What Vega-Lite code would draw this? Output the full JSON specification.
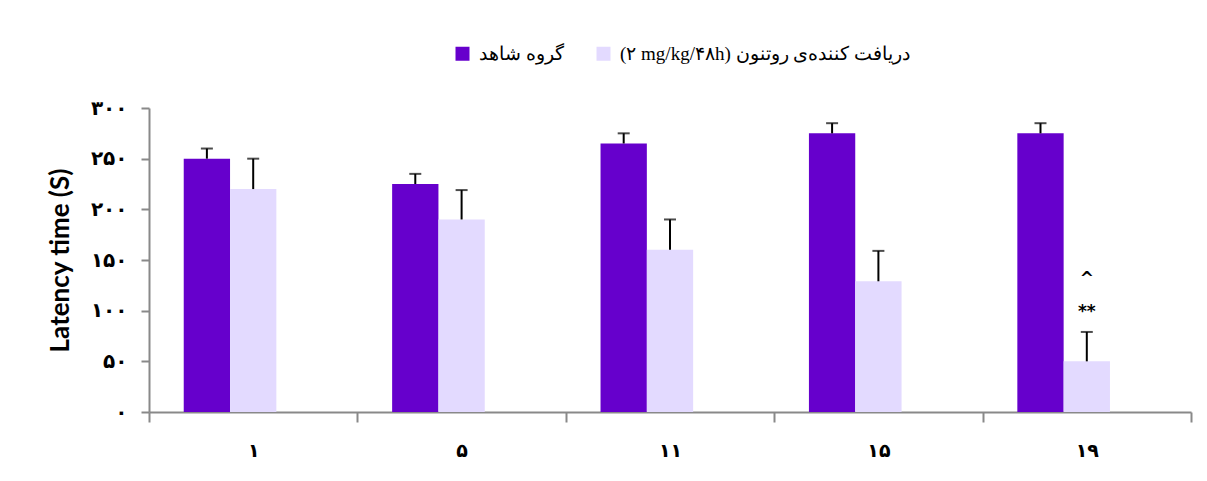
{
  "$schema": "https://vega.github.io/schema/vega-lite/v6.json",
  "width": 1042,
  "height": 304,
  "autosize": {"type": "none"},
  "padding": {"left": 149, "top": 108, "right": 16, "bottom": 69},
  "background": "white",
  "config": {"view": {"stroke": null}, "axis": {"grid": false}},
  "datasets": {
    "bars": [
      {"day": "۱", "group": "گروه شاهد", "mean": 250, "upper": 260},
      {"day": "۱", "group": "(۲ mg/kg/۴۸h) دریافت کننده‌ی روتنون", "mean": 220, "upper": 250},
      {"day": "۵", "group": "گروه شاهد", "mean": 225, "upper": 235},
      {"day": "۵", "group": "(۲ mg/kg/۴۸h) دریافت کننده‌ی روتنون", "mean": 190, "upper": 219},
      {"day": "۱۱", "group": "گروه شاهد", "mean": 265, "upper": 275},
      {"day": "۱۱", "group": "(۲ mg/kg/۴۸h) دریافت کننده‌ی روتنون", "mean": 160, "upper": 190},
      {"day": "۱۵", "group": "گروه شاهد", "mean": 275, "upper": 285},
      {"day": "۱۵", "group": "(۲ mg/kg/۴۸h) دریافت کننده‌ی روتنون", "mean": 129, "upper": 159},
      {"day": "۱۹", "group": "گروه شاهد", "mean": 275, "upper": 285},
      {"day": "۱۹", "group": "(۲ mg/kg/۴۸h) دریافت کننده‌ی روتنون", "mean": 50, "upper": 79}
    ],
    "notes": [
      {"day": "۱۹", "group": "(۲ mg/kg/۴۸h) دریافت کننده‌ی روتنون", "label": "**", "pos": 99},
      {"day": "۱۹", "group": "(۲ mg/kg/۴۸h) دریافت کننده‌ی روتنون", "label": "^", "pos": 131}
    ]
  },
  "encoding": {
    "x": {
      "field": "day",
      "type": "nominal",
      "sort": ["۱", "۵", "۱۱", "۱۵", "۱۹"],
      "scale": {"domain": ["۱", "۵", "۱۱", "۱۵", "۱۹"], "paddingInner": 0, "paddingOuter": 0},
      "axis": {
        "title": null,
        "tickBand": "extent",
        "tickSize": 10,
        "tickWidth": 2,
        "tickColor": "#898989",
        "domainColor": "#898989",
        "domainWidth": 2,
        "labelAngle": 0,
        "labelFont": "DejaVu Sans",
        "labelFontSize": 19,
        "labelFontWeight": "bold",
        "labelColor": "black",
        "labelPadding": 19
      }
    },
    "xOffset": {
      "field": "group",
      "type": "nominal",
      "scale": {
        "domain": ["گروه شاهد", "(۲ mg/kg/۴۸h) دریافت کننده‌ی روتنون", "_"],
        "paddingInner": 0,
        "paddingOuter": 0.75
      }
    },
    "y": {
      "field": "mean",
      "type": "quantitative",
      "scale": {"domain": [0, 300], "nice": false},
      "axis": {
        "values": [0, 50, 100, 150, 200, 250, 300],
        "labelExpr": "datum.value == 0 ? '۰' : datum.value == 50 ? '۵۰' : datum.value == 100 ? '۱۰۰' : datum.value == 150 ? '۱۵۰' : datum.value == 200 ? '۲۰۰' : datum.value == 250 ? '۲۵۰' : '۳۰۰'",
        "title": "Latency time (S)",
        "titleFont": "Lato",
        "titleFontSize": 26,
        "titleFontWeight": "bold",
        "titleColor": "black",
        "titlePadding": 17,
        "labelFont": "DejaVu Sans",
        "labelFontSize": 20,
        "labelFontWeight": "bold",
        "labelColor": "black",
        "labelPadding": 14,
        "tickSize": 8,
        "tickWidth": 2,
        "tickColor": "#898989",
        "domainColor": "#898989",
        "domainWidth": 2
      }
    }
  },
  "layer": [
    {
      "data": {"name": "bars"},
      "mark": {"type": "bar"},
      "encoding": {
        "color": {
          "field": "group",
          "type": "nominal",
          "scale": {
            "domain": ["گروه شاهد", "(۲ mg/kg/۴۸h) دریافت کننده‌ی روتنون"],
            "range": ["#6600CC", "#E3DAFF"]
          },
          "legend": {
            "title": null,
            "orient": "none",
            "legendX": 304,
            "legendY": -64,
            "direction": "horizontal",
            "symbolType": "square",
            "symbolSize": 196,
            "symbolStrokeWidth": 0,
            "labelFont": "Liberation Serif",
            "labelFontSize": 19,
            "labelColor": "black",
            "labelLimit": 500,
            "labelOffset": 7,
            "columnPadding": 30
          }
        }
      }
    },
    {
      "data": {"name": "bars"},
      "mark": {"type": "rule", "color": "black", "strokeWidth": 2},
      "encoding": {
        "y2": {"field": "upper"}
      }
    },
    {
      "data": {"name": "bars"},
      "mark": {"type": "tick", "color": "black", "thickness": 2, "size": 12, "orient": "horizontal"},
      "encoding": {
        "y": {"field": "upper", "type": "quantitative", "title": "Latency time (S)"}
      }
    },
    {
      "data": {"name": "notes"},
      "mark": {"type": "text", "font": "DejaVu Sans", "fontSize": 17, "fontWeight": "bold", "color": "black", "baseline": "middle"},
      "encoding": {
        "y": {"field": "pos", "type": "quantitative", "title": "Latency time (S)"},
        "text": {"field": "label"}
      }
    }
  ]
}
